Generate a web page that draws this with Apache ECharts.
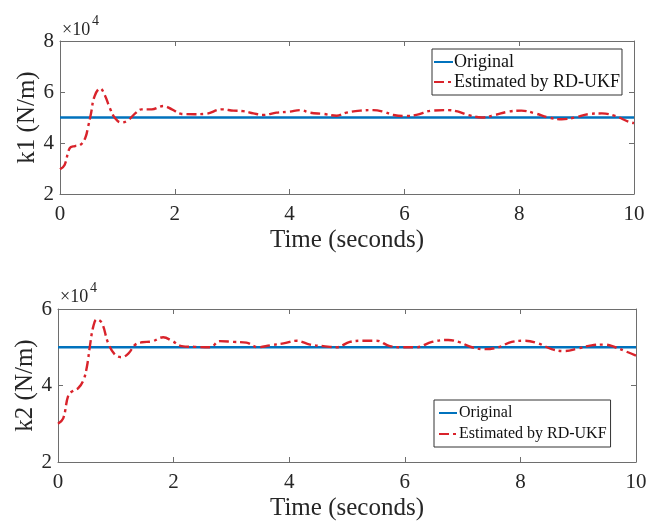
<!DOCTYPE html>
<html>
<head>
<meta charset="utf-8">
<script src="https://cdn.jsdelivr.net/npm/echarts@6/dist/echarts.min.js"></script>
<style>html,body{margin:0;padding:0;background:#fff;}#c{width:650px;height:527px;}</style>
</head>
<body>
<div id="c"></div>
<script>
// ---- Data ----
var xTicks = [0, 2, 4, 6, 8, 10];
var k1Ticks = [2, 4, 6, 8];      // ×10^4
var k2Ticks = [2, 4, 6];         // ×10^4
var origTime = [0, 10];
var origK = [50000, 50000];
var t1 = [0, 0.08, 0.17, 0.26, 0.35, 0.44, 0.49, 0.54, 0.60, 0.70, 0.78, 0.87, 0.96, 1.07, 1.19, 1.31, 1.42, 1.60, 1.80, 1.95, 2.12, 2.35, 2.53, 2.82, 3.02, 3.19, 3.37, 3.54, 3.77, 4.0, 4.18, 4.36, 4.59, 4.82, 4.99, 5.23, 5.46, 5.63, 5.81, 6.04, 6.21, 6.48, 6.77, 6.94, 7.11, 7.35, 7.58, 7.81, 8.04, 8.28, 8.51, 8.74, 8.97, 9.2, 9.44, 9.67, 9.9, 10];
var k1Est = [29700, 31400, 38000, 38800, 39200, 42000, 46400, 51600, 58200, 61400, 58800, 53600, 49700, 48000, 49000, 51600, 53200, 53200, 54500, 53200, 51400, 51300, 51400, 53200, 52700, 52500, 51600, 51000, 51900, 52300, 52900, 51900, 51400, 50700, 51900, 52700, 52900, 52300, 51000, 50600, 51000, 52700, 52900, 52300, 51000, 50000, 51000, 52300, 52700, 51600, 50000, 49300, 50000, 51300, 51600, 50600, 48400, 47800];
var t2 = [0, 0.09, 0.18, 0.26, 0.35, 0.44, 0.50, 0.55, 0.61, 0.67, 0.76, 0.87, 0.99, 1.10, 1.22, 1.33, 1.45, 1.62, 1.82, 1.97, 2.14, 2.37, 2.63, 2.80, 3.03, 3.26, 3.46, 3.67, 3.90, 4.13, 4.36, 4.59, 4.82, 5.05, 5.28, 5.51, 5.74, 5.97, 6.2, 6.47, 6.75, 6.93, 7.16, 7.39, 7.62, 7.85, 8.08, 8.31, 8.54, 8.77, 9.0, 9.23, 9.46, 9.64, 9.81, 10];
var k2Est = [30000, 31400, 37500, 38600, 39300, 41400, 44900, 50100, 55400, 57300, 56300, 51000, 48000, 47400, 48400, 50600, 51300, 51500, 52600, 51700, 50300, 50100, 50000, 51600, 51400, 51200, 50000, 50500, 51000, 51700, 50700, 50300, 50000, 51400, 51700, 51700, 50300, 50000, 50000, 51400, 51900, 51400, 50000, 49500, 50000, 51400, 51700, 51000, 49500, 49000, 49700, 50500, 50700, 50000, 49000, 47800];
var names = ['Original', 'Estimated by RD-UKF'];

function zip(a, b) { return a.map(function (v, i) { return [v, b[i]]; }); }

var FONT = '"Liberation Serif", "Times New Roman", serif';
var AX = '#6e6e6e';
var TXT = '#262626';
var BLUE = '#0072BD';
var RED = '#D9232B';

function xAx(gi, pos, show) {
  return {
    type: 'value', gridIndex: gi, position: pos, min: 0, max: 10, interval: 2,
    name: show ? 'Time (seconds)' : '', nameLocation: 'middle', nameGap: 34, nameMoveOverlap: false,
    nameTextStyle: { fontFamily: FONT, fontSize: 25, color: TXT },
    axisLine: { show: true, onZero: false, lineStyle: { color: AX, width: 1 } },
    axisTick: { show: true, inside: true, length: 5, lineStyle: { color: AX } },
    axisLabel: { show: show, fontFamily: FONT, fontSize: 21, color: TXT, margin: 10 },
    splitLine: { show: false }
  };
}
function yAx(gi, pos, show, min, max, nm) {
  return {
    type: 'value', gridIndex: gi, position: pos, min: min, max: max, interval: 20000,
    name: show ? nm : '', nameLocation: 'middle', nameGap: 20, nameRotate: 90, nameMoveOverlap: false,
    nameTextStyle: { fontFamily: FONT, fontSize: 25, color: TXT },
    axisLine: { show: true, onZero: false, lineStyle: { color: AX, width: 1 } },
    axisTick: { show: true, inside: true, length: 5, lineStyle: { color: AX } },
    axisLabel: { show: show, fontFamily: FONT, fontSize: 21, color: TXT, margin: 6,
      formatter: function (v) { return String(v / 10000); } },
    splitLine: { show: false }
  };
}

var chart = echarts.init(document.getElementById('c'), null, { renderer: 'canvas' });
chart.setOption({
  animation: false,
  backgroundColor: '#fff',
  grid: [
    { left: 60, top: 41, width: 574, height: 153 },
    { left: 58, top: 309, width: 578, height: 153 }
  ],
  xAxis: [xAx(0, 'bottom', true), xAx(0, 'top', false), xAx(1, 'bottom', true), xAx(1, 'top', false)],
  yAxis: [yAx(0, 'left', true, 20000, 80000, 'k1 (N/m)'), yAx(0, 'right', false, 20000, 80000, ''),
          yAx(1, 'left', true, 20000, 60000, 'k2 (N/m)'), yAx(1, 'right', false, 20000, 60000, '')],
  legend: [
    { data: names, orient: 'vertical', left: 432, top: 49, itemWidth: 19, itemHeight: 10, itemGap: 2,
      padding: [4, 2, 4, 1], borderColor: '#333', borderWidth: 1, backgroundColor: '#fff',
      itemStyle: { opacity: 0 },
      textStyle: { fontFamily: FONT, fontSize: 18, color: '#111', padding: [0, 0, 0, -4] }, selectedMode: false },
    { data: names, orient: 'vertical', left: 434, top: 400, itemWidth: 18, itemHeight: 10, itemGap: 5,
      padding: [5, 4, 5, 4], borderColor: '#333', borderWidth: 1, backgroundColor: '#fff',
      itemStyle: { opacity: 0 },
      textStyle: { fontFamily: FONT, fontSize: 16, color: '#111', padding: [0, 0, 0, -3] }, selectedMode: false }
  ],
  series: [
    { name: names[0], type: 'line', xAxisIndex: 0, yAxisIndex: 0, data: zip(origTime, origK), symbol: 'none',
      lineStyle: { color: BLUE, width: 2.5 }, itemStyle: { color: BLUE }, z: 2 },
    { name: names[1], type: 'line', xAxisIndex: 0, yAxisIndex: 0, data: zip(t1, k1Est), symbol: 'none', smooth: 0.4,
      lineStyle: { color: RED, width: 2.4, type: [10, 4, 3, 4] }, itemStyle: { color: RED }, z: 3 },
    { name: names[0], type: 'line', xAxisIndex: 2, yAxisIndex: 2, data: zip(origTime, origK), symbol: 'none',
      lineStyle: { color: BLUE, width: 2.5 }, itemStyle: { color: BLUE }, z: 2 },
    { name: names[1], type: 'line', xAxisIndex: 2, yAxisIndex: 2, data: zip(t2, k2Est), symbol: 'none', smooth: 0.4,
      lineStyle: { color: RED, width: 2.4, type: [10, 4, 3, 4] }, itemStyle: { color: RED }, z: 3 }
  ],
  graphic: [
    { type: 'text', left: 62, top: 21, style: { text: '×10', font: '18px ' + FONT, fill: TXT } },
    { type: 'text', left: 92, top: 14, style: { text: '4', font: '14px ' + FONT, fill: TXT } },
    { type: 'text', left: 60, top: 288, style: { text: '×10', font: '18px ' + FONT, fill: TXT } },
    { type: 'text', left: 90, top: 281, style: { text: '4', font: '14px ' + FONT, fill: TXT } }
  ]
});
</script>
</body>
</html>
